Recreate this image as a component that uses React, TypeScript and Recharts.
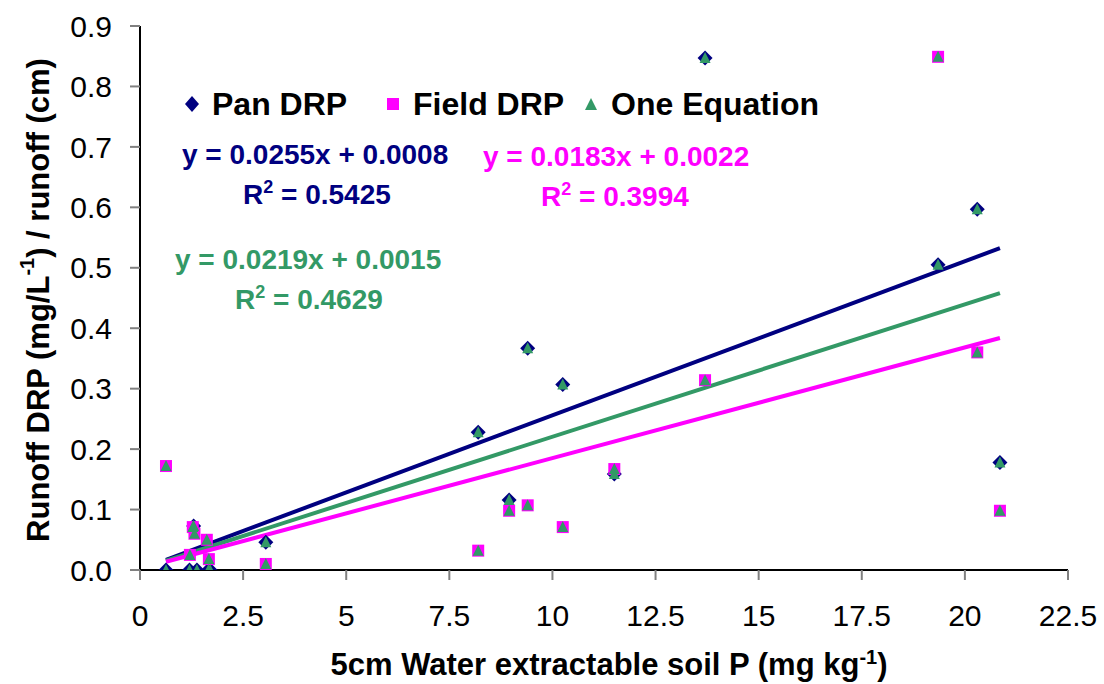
import React from "react"
import { Scatter, ScatterChart, XAxis, YAxis, Label } from "recharts"

const FONT = "'Liberation Sans', Arial, sans-serif"
const NAVY = "#000080"
const PINK = "#FF00FF"
const GREEN = "#339966"

// 5cm water extractable soil P (mg/kg) vs runoff DRP / runoff
const panDRP = [
	{ x: 0.63, y: 0 },
	{ x: 1.2, y: 0 },
	{ x: 1.3, y: 0.073 },
	{ x: 1.38, y: 0 },
	{ x: 1.66, y: 0 },
	{ x: 1.7, y: 0 },
	{ x: 3.05, y: 0.046 },
	{ x: 8.2, y: 0.228 },
	{ x: 8.95, y: 0.116 },
	{ x: 9.4, y: 0.367 },
	{ x: 10.25, y: 0.307 },
	{ x: 11.5, y: 0.159 },
	{ x: 13.7, y: 0.847 },
	{ x: 19.35, y: 0.505 },
	{ x: 20.3, y: 0.597 },
	{ x: 20.85, y: 0.178 },
]

const fieldDRP = [
	{ x: 0.63, y: 0.172 },
	{ x: 1.21, y: 0.025 },
	{ x: 1.28, y: 0.071 },
	{ x: 1.32, y: 0.06 },
	{ x: 1.62, y: 0.05 },
	{ x: 1.67, y: 0.018 },
	{ x: 3.05, y: 0.01 },
	{ x: 8.2, y: 0.032 },
	{ x: 8.95, y: 0.098 },
	{ x: 9.4, y: 0.107 },
	{ x: 10.25, y: 0.071 },
	{ x: 11.5, y: 0.167 },
	{ x: 13.7, y: 0.314 },
	{ x: 19.35, y: 0.849 },
	{ x: 20.3, y: 0.36 },
	{ x: 20.85, y: 0.098 },
]

// one equation = both data sets pooled
const oneEquation = [...panDRP, ...fieldDRP]

// trend line end points (from the fitted equations)
const panTrend = [
	{ x: 0.63, y: 0.0169 },
	{ x: 20.85, y: 0.5325 },
]
const fieldTrend = [
	{ x: 0.63, y: 0.0137 },
	{ x: 20.85, y: 0.3838 },
]
const oneTrend = [
	{ x: 0.63, y: 0.0153 },
	{ x: 20.85, y: 0.4581 },
]

const xTicks = [0, 2.5, 5, 7.5, 10, 12.5, 15, 17.5, 20, 22.5]
const yTicks = [0, 0.1, 0.2, 0.3, 0.4, 0.5, 0.6, 0.7, 0.8, 0.9]

const legendItems = [
	{ name: "Pan DRP", color: NAVY, kind: "diamond", left: 184 },
	{ name: "Field DRP", color: PINK, kind: "square", left: 385 },
	{ name: "One Equation", color: GREEN, kind: "triangle", left: 583 },
]

const equations = [
	{ eq: "y = 0.0255x + 0.0008", r2: "0.5425", color: NAVY, left: 182, top: 139, r2Left: 243 },
	{ eq: "y = 0.0183x + 0.0022", r2: "0.3994", color: PINK, left: 483, top: 141, r2Left: 541 },
	{ eq: "y = 0.0219x + 0.0015", r2: "0.4629", color: GREEN, left: 175, top: 244, r2Left: 235 },
]

function Diamond(props: any) {
	const { cx, cy } = props
	if (cx == null || cy == null) return <g />
	return (
		<polygon
			points={`${cx},${cy - 7.5} ${cx + 7.5},${cy} ${cx},${cy + 7.5} ${cx - 7.5},${cy}`}
			fill={NAVY}
		/>
	)
}

function Square(props: any) {
	const { cx, cy } = props
	if (cx == null || cy == null) return <g />
	return <rect x={cx - 6} y={cy - 6} width={12} height={12} fill={PINK} />
}

function Triangle(props: any) {
	const { cx, cy } = props
	if (cx == null || cy == null) return <g />
	return (
		<polygon points={`${cx},${cy - 6} ${cx + 5.5},${cy + 5} ${cx - 5.5},${cy + 5}`} fill={GREEN} />
	)
}

const NoDot = () => <g />

function LegendMarker({ kind, color }: { kind: string; color: string }) {
	return (
		<svg width={16} height={16} style={{ marginRight: 12 }}>
			{kind === "diamond" && <polygon points="8,0 15,8 8,16 1,8" fill={color} />}
			{kind === "square" && <rect x={2} y={2} width={12} height={12} fill={color} />}
			{kind === "triangle" && <polygon points="8,2 14,14 2,14" fill={color} />}
		</svg>
	)
}

function YTitle(props: any) {
	const { viewBox } = props
	const cx = 38
	const cy = viewBox.y + viewBox.height / 2 + 2
	return (
		<text
			x={cx}
			y={cy}
			transform={`rotate(-90, ${cx}, ${cy})`}
			textAnchor="middle"
			dominantBaseline="central"
			fontFamily={FONT}
			fontWeight="bold"
			fontSize={31}
			fill="#000"
		>
			Runoff DRP (mg/L
			<tspan baselineShift="super" fontSize={20}>-1</tspan>
			<tspan>) / runoff (cm)</tspan>
		</text>
	)
}

function XTitle(props: any) {
	const { viewBox } = props
	const cx = viewBox.x + viewBox.width / 2 + 5
	return (
		<text x={cx} y={675} textAnchor="middle" fontFamily={FONT} fontWeight="bold" fontSize={31} fill="#000">
			5cm Water extractable soil P (mg kg
			<tspan baselineShift="super" fontSize={20}>-1</tspan>
			<tspan>)</tspan>
		</text>
	)
}

export default function App() {
	return (
		<div style={{ position: "absolute", left: 0, top: 0, width: 1104, height: 684, background: "#fff" }}>
			<ScatterChart width={1104} height={684} margin={{ top: 26, right: 36, left: 0, bottom: 0 }}>
				<XAxis
					type="number"
					dataKey="x"
					domain={[0, 22.5]}
					ticks={xTicks}
					height={114}
					tickSize={10}
					tickMargin={25}
					axisLine={{ stroke: "#000", strokeWidth: 2 }}
					tickLine={{ stroke: "#808080", strokeWidth: 2 }}
					tick={{ fontSize: 30, fill: "#000", fontFamily: FONT }}
					allowDataOverflow
				>
					<Label content={<XTitle />} />
				</XAxis>
				<YAxis
					type="number"
					dataKey="y"
					domain={[0, 0.9]}
					ticks={yTicks}
					width={140}
					tickSize={10}
					tickMargin={18}
					tickFormatter={(v: number) => v.toFixed(1)}
					axisLine={{ stroke: "#000", strokeWidth: 2 }}
					tickLine={{ stroke: "#808080", strokeWidth: 2 }}
					tick={{ fontSize: 30, fill: "#000", fontFamily: FONT }}
					allowDataOverflow
				>
					<Label content={<YTitle />} />
				</YAxis>
				<Scatter
					name="panTrend"
					data={panTrend}
					line={{ stroke: NAVY, strokeWidth: 4 }}
					shape={NoDot}
					legendType="none"
					isAnimationActive={false}
				/>
				<Scatter
					name="oneTrend"
					data={oneTrend}
					line={{ stroke: GREEN, strokeWidth: 4 }}
					shape={NoDot}
					legendType="none"
					isAnimationActive={false}
				/>
				<Scatter
					name="fieldTrend"
					data={fieldTrend}
					line={{ stroke: PINK, strokeWidth: 4 }}
					shape={NoDot}
					legendType="none"
					isAnimationActive={false}
				/>
				<Scatter name="Pan DRP" data={panDRP} shape={Diamond} isAnimationActive={false} />
				<Scatter name="Field DRP" data={fieldDRP} shape={Square} isAnimationActive={false} />
				<Scatter name="One Equation" data={oneEquation} shape={Triangle} isAnimationActive={false} />
			</ScatterChart>
			{legendItems.map((it) => (
				<div
					key={it.name}
					style={{
						position: "absolute",
						left: it.left,
						top: 86,
						height: 36,
						display: "flex",
						alignItems: "center",
						fontFamily: FONT,
						fontWeight: "bold",
						fontSize: 32,
						whiteSpace: "nowrap",
					}}
				>
					<LegendMarker kind={it.kind} color={it.color} />
					<span>{it.name}</span>
				</div>
			))}
			{equations.map((e) => (
				<div key={e.eq} style={{ fontFamily: FONT, fontWeight: "bold", fontSize: 28, color: e.color }}>
					<div style={{ position: "absolute", left: e.left, top: e.top, whiteSpace: "nowrap" }}>{e.eq}</div>
					<div style={{ position: "absolute", left: e.r2Left, top: e.top + 38, whiteSpace: "nowrap" }}>
						R<sup style={{ fontSize: 18, verticalAlign: "11px" }}>2</sup> = {e.r2}
					</div>
				</div>
			))}
		</div>
	)
}
